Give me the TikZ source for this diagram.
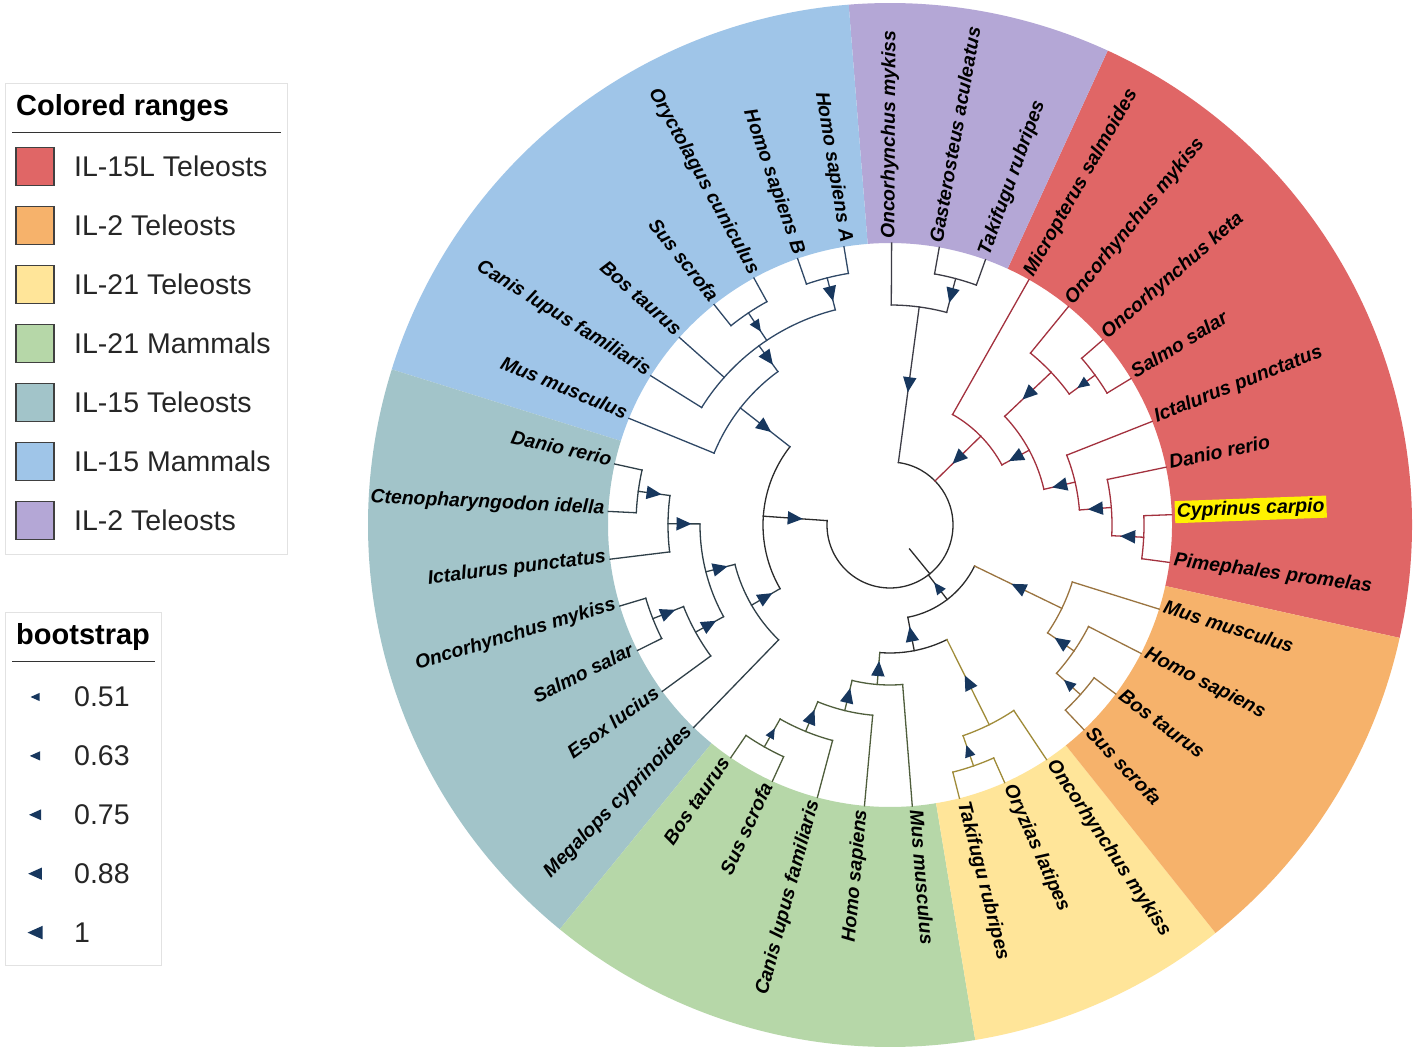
\documentclass[tikz,border=0pt]{standalone}
\usepackage{fontspec}
\setmainfont{Liberation Sans}
\usetikzlibrary{calc}

\definecolor{rngRed}{HTML}{E06666}
\definecolor{rngOrange}{HTML}{F6B26B}
\definecolor{rngYellow}{HTML}{FFE599}
\definecolor{rngGreen}{HTML}{B6D7A8}
\definecolor{rngTeal}{HTML}{A2C4C9}
\definecolor{rngBlue}{HTML}{9FC5E8}
\definecolor{rngPurple}{HTML}{B4A7D6}
\definecolor{brRoot}{HTML}{2B2B2B}
\definecolor{brRed}{HTML}{A3313E}
\definecolor{brPurple}{HTML}{3C3C46}
\definecolor{brBlue}{HTML}{2F4866}
\definecolor{brTeal}{HTML}{2F3F48}
\definecolor{brGreen}{HTML}{4F5E3C}
\definecolor{brYellow}{HTML}{A08C3A}
\definecolor{brOrange}{HTML}{9A7440}
\definecolor{bootBlue}{HTML}{17375E}
\definecolor{legGray}{HTML}{E2E2E2}

\def\rin{282pt}
\def\rout{522pt}
\def\bbig{7.5}
\def\bmid{6}
\def\bsmall{5.2}
\tikzset{
  branch/.style={line width=1.3pt, line cap=rect},
  bootfill/.style={fill=bootBlue},
  leaf/.style={font=\fontsize{19.4}{22}\selectfont\bfseries\itshape, inner sep=2pt},
  legbox/.style={draw=legGray, line width=1pt},
  legrule/.style={draw=black!80, line width=1pt},
  legtitle/.style={font=\fontsize{29}{34}\selectfont\bfseries, inner sep=0pt},
  legtext/.style={font=\fontsize{28.5}{34}\selectfont, text=black!85, inner sep=0pt},
  legsq/.style={draw=black!75, line width=1.2pt, minimum size=38pt, inner sep=0pt}
}
% radial branch, bootstrap triangle half way
\newcommand\branch[5]{%
  \draw[branch, draw=#1] (#2:#3) -- (#2:#4);
  \fill[bootfill, rotate=#2] ({(#3+#4)/2-#5},0) -- ({(#3+#4)/2+#5},{0.9*#5})
    -- ({(#3+#4)/2+#5},{-0.9*#5}) -- cycle;}
% arc of an inner node
\newcommand\nodearc[4]{%
  \draw[branch, draw=#1] (#2:#4) arc[start angle=#2, end angle=#3, radius=#4pt];}

\begin{document}
\begin{tikzpicture}[x=1pt,y=1pt]
  \fill[white] (0,0) rectangle (1417,1053);
  \useasboundingbox (0,0) rectangle (1417,1053);

  % Legend: colored ranges
  \draw[legbox] (5,969) rectangle (287,498);
  \node[legtitle, anchor=base west] (rngtitle) at (16,937) {Colored ranges};
  \draw[legrule] (12,920) -- (281,920);
  \foreach \i/\c/\t in {0/rngRed/IL-15L Teleosts, 1/rngOrange/IL-2 Teleosts,
      2/rngYellow/IL-21 Teleosts, 3/rngGreen/IL-21 Mammals, 4/rngTeal/IL-15 Teleosts,
      5/rngBlue/IL-15 Mammals, 6/rngPurple/IL-2 Teleosts} {
    \node[legsq, fill=\c] (sq\i) at (35,{886.5-59*\i}) {};
    \node[legtext, anchor=west] (rng\i) at (74,{886.5-59*\i}) {\t};
  }

  % Legend: bootstrap
  \draw[legbox] (5,440) rectangle (161,88);
  \node[legtitle, anchor=base west] (boottitle) at (16,408) {bootstrap};
  \draw[legrule] (12,391) -- (155,391);
  \foreach \i/\s/\t in {0/4.5/0.51, 1/5.2/0.63, 2/6/0.75, 3/6.8/0.88, 4/7.5/1} {
    \fill[bootfill] ({35-\s},{356-58.9*\i}) -- ({35+\s},{356-58.9*\i+0.9*\s})
      -- ({35+\s},{356-58.9*\i-0.9*\s}) -- cycle;
    \node[legtext, anchor=west] (boot\i) at (74,{356-58.9*\i}) {\t};
  }

  \begin{scope}[shift={(890,528)}]
    % Colored ranges
    \foreach \a/\b/\c in {-12.49/65.35/rngRed, 65.35/94.54/rngPurple,
        94.54/162.65/rngBlue, 162.65/230.75/rngTeal, 230.75/279.40/rngGreen,
        279.40/308.59/rngYellow, 308.59/347.51/rngOrange}
      \fill[\c] (\a:\rin) arc[start angle=\a, end angle=\b, radius=\rin]
        -- (\b:\rout) arc[start angle=\b, end angle=\a, radius=\rout] -- cycle;

    % Root
    \draw[branch, draw=brRoot] (309.2:31) -- (309.2:63);
    \nodearc{brRoot}{176.02}{442.37}{63}

    % IL-15L teleosts
    \branch{brRed}{44.37}{63}{127}{\bbig}   \nodearc{brRed}{28.25}{60.48}{127}
    \branch{brRed}{28.25}{127}{158}{\bbig}  \nodearc{brRed}{13.05}{43.45}{158}
    \branch{brRed}{43.45}{158}{222}{\bbig}  \nodearc{brRed}{36.155}{50.75}{222}
    \branch{brRed}{36.155}{222}{254}{\bmid} \nodearc{brRed}{31.29}{41.02}{254}
    \branch{brRed}{13.05}{158}{190}{\bbig}  \nodearc{brRed}{4.53}{21.56}{190}
    \branch{brRed}{4.53}{190}{222}{\bbig}   \nodearc{brRed}{-2.765}{11.83}{222}
    \branch{brRed}{-2.765}{222}{254}{\bbig} \nodearc{brRed}{-7.63}{2.10}{254}

    % IL-2 teleosts (purple)
    \branch{brPurple}{82.37}{63}{220}{\bbig}   \nodearc{brPurple}{75.075}{89.67}{220}
    \branch{brPurple}{75.075}{220}{255}{\bbig} \nodearc{brPurple}{70.21}{79.94}{255}

    % IL-15 mammals and teleosts
    \branch{brRoot}{176.02}{63}{127}{\bbig}  \nodearc{brRoot}{141.97}{210.07}{127}
    \branch{brBlue}{141.97}{127}{190}{\bbig} \nodearc{brBlue}{126.16}{157.78}{190}
    \branch{brBlue}{126.16}{190}{222}{\bbig} \nodearc{brBlue}{104.265}{148.05}{222}
    \branch{brBlue}{104.265}{222}{255}{\bbig} \nodearc{brBlue}{99.40}{109.13}{255}
    \branch{brBlue}{123.725}{222}{255}{\bmid} \nodearc{brBlue}{118.86}{128.59}{255}
    \branch{brTeal}{210.07}{127}{160}{\bbig} \nodearc{brTeal}{194.26}{225.88}{160}
    \branch{brTeal}{194.26}{160}{190}{\bbig} \nodearc{brTeal}{179.67}{208.85}{190}
    \branch{brTeal}{179.67}{190}{222}{\bbig} \nodearc{brTeal}{172.375}{186.97}{222}
    \branch{brTeal}{172.375}{222}{254}{\bbig} \nodearc{brTeal}{167.51}{177.24}{254}
    \branch{brTeal}{208.85}{190}{222}{\bbig} \nodearc{brTeal}{201.555}{216.15}{222}
    \branch{brTeal}{201.555}{222}{255}{\bbig} \nodearc{brTeal}{196.69}{206.42}{255}

    % IL-2 and IL-21
    \branch{brRoot}{307.52}{63}{94}{\bmid}     \nodearc{brRoot}{280.92}{334.13}{94}
    \branch{brOrange}{334.13}{94}{191}{\bbig}  \nodearc{brOrange}{325.61}{342.64}{191}
    \branch{brOrange}{325.61}{191}{223}{\bbig} \nodearc{brOrange}{318.315}{332.91}{223}
    \branch{brOrange}{318.315}{223}{255}{\bmid} \nodearc{brOrange}{313.45}{323.18}{255}
    \branch{brRoot}{280.92}{94}{128}{\bbig}    \nodearc{brRoot}{265.41}{296.42}{128}
    \branch{brYellow}{296.42}{128}{223}{\bbig} \nodearc{brYellow}{289.125}{303.72}{223}
    \branch{brYellow}{289.125}{223}{255}{\bmid} \nodearc{brYellow}{284.26}{293.99}{255}
    \branch{brGreen}{265.41}{128}{160}{\bbig}  \nodearc{brGreen}{256.29}{274.53}{160}
    \branch{brGreen}{256.29}{160}{191}{\bbig}  \nodearc{brGreen}{247.77}{264.80}{191}
    \branch{brGreen}{247.77}{191}{223}{\bbig}  \nodearc{brGreen}{240.475}{255.07}{223}
    \branch{brGreen}{240.475}{223}{255}{\bsmall} \nodearc{brGreen}{235.61}{245.34}{255}

    % Leaves, right half
    \foreach \k/\r/\c/\nm in {1/222/brRed/Danio rerio, 2/190/brRed/Ictalurus punctatus,
        3/254/brRed/Salmo salar, 4/254/brRed/Oncorhynchus keta,
        5/222/brRed/Oncorhynchus mykiss, 6/127/brRed/Micropterus salmoides,
        7/255/brPurple/Takifugu rubripes, 8/255/brPurple/Gasterosteus aculeatus,
        9/220/brPurple/Oncorhynchus mykiss, 28/160/brGreen/Mus musculus,
        29/255/brYellow/Takifugu rubripes, 30/255/brYellow/Oryzias latipes,
        31/223/brYellow/Oncorhynchus mykiss, 32/255/brOrange/Sus scrofa,
        33/255/brOrange/Bos taurus, 34/223/brOrange/Homo sapiens,
        35/191/brOrange/Mus musculus, 36/254/brRed/Pimephales promelas} {
      \pgfmathsetmacro\a{2.1+\k*360/37}
      \coordinate (tip\k) at (\a:282);
      \draw[branch, draw=\c] (\a:\r) -- (tip\k);
      \node[leaf, anchor=mid west, rotate=\a] (leaf\k) at (\a:284) {\nm};
    }
    \coordinate (tip0) at (2.1:282);
    \draw[branch, draw=brRed] (2.1:254) -- (tip0);
    \node[leaf, anchor=mid west, rotate=2.1, fill=yellow] (leaf0) at (2.1:285) {Cyprinus carpio};

    % Leaves, left half
    \foreach \k/\r/\c/\nm in {10/255/brBlue/Homo sapiens A, 11/255/brBlue/Homo sapiens B,
        12/255/brBlue/Oryctolagus cuniculus, 13/255/brBlue/Sus scrofa,
        14/222/brBlue/Bos taurus, 15/222/brBlue/Canis lupus familiaris,
        16/190/brBlue/Mus musculus, 17/254/brTeal/Danio rerio,
        18/254/brTeal/Ctenopharyngodon idella, 19/222/brTeal/Ictalurus punctatus,
        20/255/brTeal/Oncorhynchus mykiss, 21/255/brTeal/Salmo salar,
        22/222/brTeal/Esox lucius, 23/160/brTeal/Megalops cyprinoides,
        24/255/brGreen/Bos taurus, 25/255/brGreen/Sus scrofa,
        26/223/brGreen/Canis lupus familiaris, 27/191/brGreen/Homo sapiens} {
      \pgfmathsetmacro\a{2.1+\k*360/37}
      \coordinate (tip\k) at (\a:282);
      \draw[branch, draw=\c] (\a:\r) -- (tip\k);
      \node[leaf, anchor=mid east, rotate=\a-180] (leaf\k) at (\a:284) {\nm};
    }
  \end{scope}
\end{tikzpicture}
\end{document}
